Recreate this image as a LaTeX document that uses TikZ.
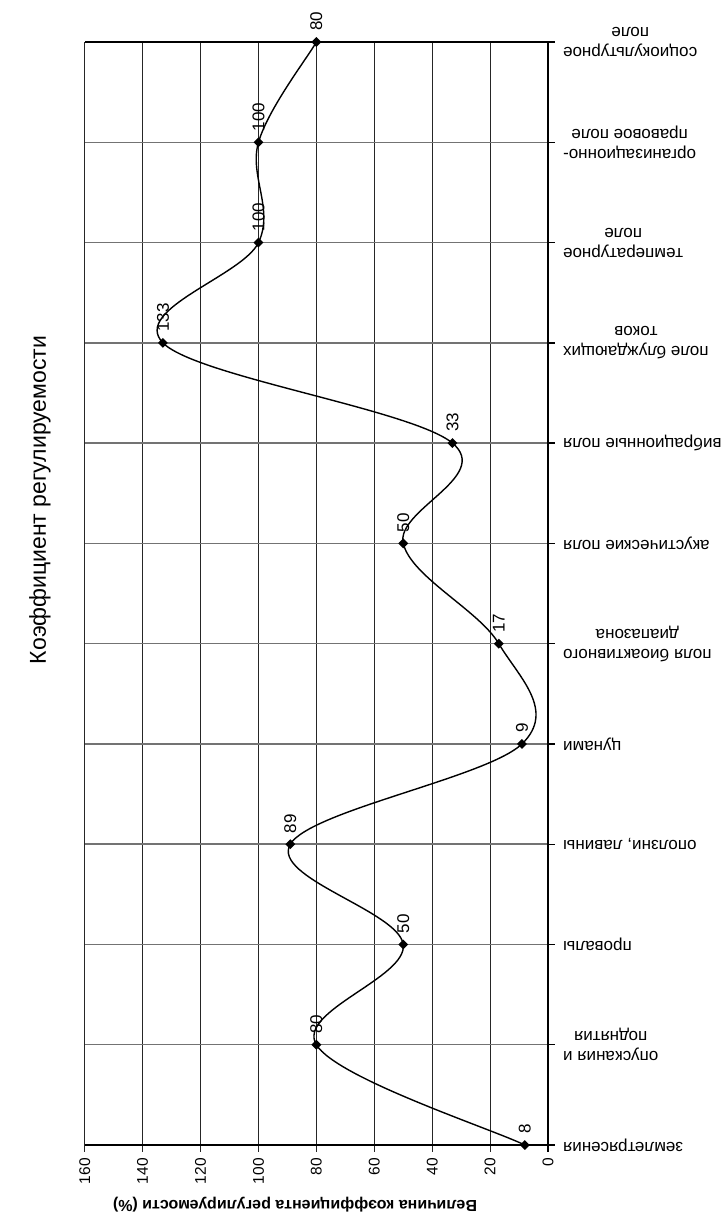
\documentclass[tikz,border=0pt]{standalone}
\usepackage{fontspec}
\setmainfont{Liberation Sans}
\usetikzlibrary{calc,shapes.geometric}
\begin{document}
\begin{tikzpicture}[x=1pt,y=-1pt,
  vgrid/.style={draw=black!85, line width=1pt},
  cgrid/.style={draw=black!55, line width=1.5pt},
  axisline/.style={draw=black, line width=1.4pt},
  mk/.style={diamond, fill=black, inner sep=0pt, minimum size=10pt},
  dlab/.style={rotate=90, anchor=west, inner sep=0pt, font=\fontsize{17}{19}\selectfont},
  tlab/.style={rotate=90, anchor=east, inner sep=0pt, font=\fontsize{15.5}{17}\selectfont},
  clab/.style={rotate=180, anchor=east, inner sep=0pt, align=center, font=\fontsize{17}{20}\selectfont},
  curve/.style={draw=black, line width=1.4pt}]
\path[use as bounding box] (0,0) rectangle (724,1216);

% value gridlines and ticks
\foreach \v in {20,40,...,160} {
  \draw[vgrid] (548-2.8953*\v,42) -- (548-2.8953*\v,1152);
  \node[tlab] (t\v) at (548-2.8953*\v,1158) {\v};
}
\node[tlab] (t0) at (548,1158) {0};

% category gridlines and ticks
\foreach \i in {1,...,10} {
  \pgfmathsetmacro\yy{1145-100.27*\i}
  \draw[cgrid] (85,\yy) -- (548,\yy);
  \draw[axisline] (548,\yy) -- (555,\yy);
}
\draw[axisline] (85,42) -- (555,42);
\draw[axisline] (85,1145) -- (555,1145);
\draw[axisline] (548,42) -- (548,1152);

% data points
\foreach \i/\v in {0/8,1/80,2/50,3/89,4/9,5/17,6/50,7/33,8/133,9/100,10/100,11/80} {
  \coordinate (q\i) at (548-2.8953*\v,1145-100.27*\i);
}
\draw[curve] (q0)
  .. controls ($(q0)+0.16667*(q1)-0.16667*(q0)$) and ($(q1)-0.16667*(q2)+0.16667*(q0)$) .. (q1)
  .. controls ($(q1)+0.16667*(q2)-0.16667*(q0)$) and ($(q2)-0.16667*(q3)+0.16667*(q1)$) .. (q2)
  .. controls ($(q2)+0.16667*(q3)-0.16667*(q1)$) and ($(q3)-0.16667*(q4)+0.16667*(q2)$) .. (q3)
  .. controls ($(q3)+0.16667*(q4)-0.16667*(q2)$) and ($(q4)-0.16667*(q5)+0.16667*(q3)$) .. (q4)
  .. controls ($(q4)+0.16667*(q5)-0.16667*(q3)$) and ($(q5)-0.16667*(q6)+0.16667*(q4)$) .. (q5)
  .. controls ($(q5)+0.16667*(q6)-0.16667*(q4)$) and ($(q6)-0.16667*(q7)+0.16667*(q5)$) .. (q6)
  .. controls ($(q6)+0.16667*(q7)-0.16667*(q5)$) and ($(q7)-0.16667*(q8)+0.16667*(q6)$) .. (q7)
  .. controls ($(q7)+0.16667*(q8)-0.16667*(q6)$) and ($(q8)-0.16667*(q9)+0.16667*(q7)$) .. (q8)
  .. controls ($(q8)+0.16667*(q9)-0.16667*(q7)$) and ($(q9)-0.16667*(q10)+0.16667*(q8)$) .. (q9)
  .. controls ($(q9)+0.16667*(q10)-0.16667*(q8)$) and ($(q10)-0.16667*(q11)+0.16667*(q9)$) .. (q10)
  .. controls ($(q10)+0.16667*(q11)-0.16667*(q9)$) and ($(q11)-0.16667*(q11)+0.16667*(q10)$) .. (q11);

\foreach \i/\v in {0/8,1/80,2/50,3/89,4/9,5/17,6/50,7/33,8/133,9/100,10/100,11/80} {
  \node[mk] (p\i) at (q\i) {};
  \node[dlab] (l\i) at ($(q\i)+(0,-11)$) {\v};
}

% category labels
\foreach \i/\txt in {0/{землетрясения},1/{опускания и\\поднятия},2/{провалы},3/{оползни, лавины},4/{цунами},5/{поля биоактивного\\диапазона},6/{акустические поля},7/{вибрационные поля},8/{поле блуждающих\\токов},9/{температурное\\поле},10/{организационно-\\правовое поле},11/{социокультурное\\поле}} {
  \node[clab] (c\i) at (563,1145-100.27*\i) {\txt};
}

% titles
\node[rotate=90, font=\fontsize{23}{27}\selectfont] (title) at (40,500) {Коэффициент регулируемости};
\node[rotate=180, font=\bfseries\fontsize{16}{19}\selectfont] (ytitle) at (295,1205) {Величина коэффициента регулируемости (\%)};
\end{tikzpicture}
\end{document}
